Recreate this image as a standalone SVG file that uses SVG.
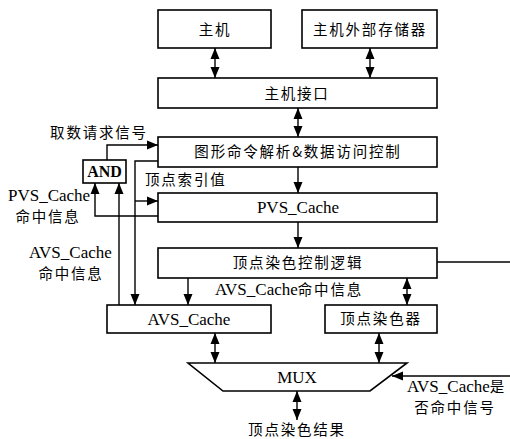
<svg xmlns="http://www.w3.org/2000/svg" width="510" height="439" viewBox="0 0 510 439">
<defs>
<marker id="ah" markerUnits="userSpaceOnUse" markerWidth="12" markerHeight="10" refX="11" refY="5" orient="auto-start-reverse">
<path d="M0,0.5 L11,5 L0,9.5 Z" fill="#000"/>
</marker>
<style>
.box{fill:#fff;stroke:#000;stroke-width:1.6}
.ln{fill:none;stroke:#000;stroke-width:1.4}
.a{marker-end:url(#ah)}
.d{marker-start:url(#ah);marker-end:url(#ah)}
text{font-family:'Liberation Serif','Noto Sans CJK SC',serif;fill:#000}
.zh{font-family:'Noto Sans CJK SC',sans-serif;font-size:14.5px;letter-spacing:1.8px}
.en{font-size:17px}
.c{text-anchor:middle}
</style>
</defs>
<rect width="510" height="439" fill="#fff"/>
<g id="host"><rect class="box" x="158" y="10" width="113" height="38"/><text class="zh c" x="215" y="35">主机</text></g>
<g id="ext-storage"><rect class="box" x="302" y="10" width="135" height="38"/><text class="zh c" x="370" y="35">主机外部存储器</text></g>
<g id="host-if"><rect class="box" x="158" y="78" width="279" height="30"/><text class="zh c" x="297" y="99">主机接口</text></g>
<g id="cmd"><rect class="box" x="158" y="137" width="279" height="30"/><text class="zh c" x="298" y="157">图形命令解析&amp;数据访问控制</text></g>
<g id="pvs"><rect class="box" x="158" y="193" width="279" height="29"/><text class="en c" x="298" y="213">PVS_Cache</text></g>
<g id="vsctl"><rect class="box" x="158" y="248" width="279" height="30"/><text class="zh c" x="298" y="268">顶点染色控制逻辑</text></g>
<g id="avs"><rect class="box" x="107" y="305" width="164" height="28"/><text class="en c" x="189" y="325">AVS_Cache</text></g>
<g id="vs"><rect class="box" x="325" y="305" width="112" height="28"/><text class="zh c" x="381" y="324">顶点染色器</text></g>
<g id="mux"><polygon class="box" points="188,363 407,363 370,391 223,391"/><text class="en c" x="297" y="383">MUX</text></g>
<g id="and"><rect class="box" x="83" y="160" width="43" height="23"/><text class="c" x="104.5" y="177" font-size="16" font-weight="bold">AND</text></g>
<g id="connectors">
<line class="ln d" x1="215" y1="48" x2="215" y2="78"/>
<line class="ln d" x1="370" y1="48" x2="370" y2="78"/>
<line class="ln d" x1="298" y1="108" x2="298" y2="137"/>
<line class="ln a" x1="298" y1="167" x2="298" y2="193"/>
<line class="ln a" x1="298" y1="222" x2="298" y2="248"/>
<line class="ln" x1="437" y1="262" x2="510" y2="262"/>
<line class="ln a" x1="188" y1="278" x2="188" y2="305"/>
<line class="ln d" x1="407" y1="278" x2="407" y2="305"/>
<line class="ln d" x1="215" y1="333" x2="215" y2="363"/>
<line class="ln d" x1="379" y1="333" x2="379" y2="363"/>
<line class="ln d" x1="297" y1="391" x2="297" y2="420"/>
<line class="ln a" x1="510" y1="376" x2="392" y2="376"/>
<polyline class="ln a" points="107,160 107,145 158,145"/>
<polyline class="ln a" points="158,161 135,161 135,305"/>
<polyline class="ln a" points="135,201 158,201"/>
<polyline class="ln a" points="158,216 95,216 95,183"/>
<line class="ln a" x1="119" y1="305" x2="119" y2="183"/>
</g>
<g id="labels">
<text class="zh c" x="99" y="138">取数请求信号</text>
<text class="zh" x="145" y="185">顶点索引值</text>
<text class="en" x="8" y="201">PVS_Cache</text>
<text class="zh c" x="48" y="222">命中信息</text>
<text class="en" x="29" y="258">AVS_Cache</text>
<text class="zh c" x="71" y="279">命中信息</text>
<text class="en" x="215" y="295">AVS_Cache<tspan class="zh">命中信息</tspan></text>
<text class="en" x="407" y="392">AVS_Cache<tspan class="zh">是</tspan></text>
<text class="zh c" x="455" y="413">否命中信号</text>
<text class="zh c" x="297" y="435">顶点染色结果</text>
</g>
</svg>
